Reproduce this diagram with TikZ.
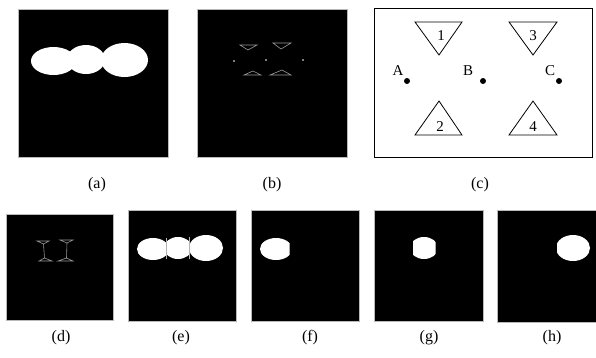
\documentclass[tikz,border=0pt]{standalone}
\usepackage{fontspec}
\setmainfont{Liberation Serif}
\begin{document}
\begin{tikzpicture}[x=1pt,y=-1pt,
  panel/.style={fill=black,draw=gray!55,line width=0.6pt},
  blob/.style={fill=white},
  thinline/.style={draw=gray!80,line width=0.6pt},
  tri/.style={draw=black,line width=0.8pt},
  caption/.style={font=\fontsize{16}{18}\selectfont,inner sep=0pt},
  lbl/.style={font=\fontsize{15}{17}\selectfont,inner sep=0pt}]
\useasboundingbox (0,0) rectangle (596,357);
% (a)
\fill[panel] (18,9) rectangle (168,157);
\fill[blob] (53.5,61) ellipse [x radius=22.5,y radius=14];
\fill[blob] (86,59.5) ellipse [x radius=19,y radius=14.5];
\fill[blob] (124.5,60) ellipse [x radius=23.5,y radius=17];
\node[caption] (la) at (97,185) {(a)};
% (b)
\fill[panel] (197,9) rectangle (347,157);
\draw[thinline] (240,45) -- (257,45) -- (248,50) -- cycle;
\draw[thinline] (273,43) -- (291,43) -- (281,49) -- cycle;
\draw[thinline] (244,75) -- (261,75) -- (253,71) -- cycle;
\draw[thinline] (270,75) -- (291,75) -- (282,70) -- cycle;
\fill[white] (234,61) circle (0.9);
\fill[white] (266,60) circle (0.9);
\fill[white] (303,60) circle (0.9);
\node[caption] (lb) at (272,185) {(b)};
% (c)
\draw[line width=0.8pt] (374,8) rectangle (592,157);
\draw[tri] (415,22) -- (462,22) -- (439,55) -- cycle;
\draw[tri] (509,22) -- (557,22) -- (533,55) -- cycle;
\draw[tri] (415,135) -- (462,135) -- (439,101) -- cycle;
\draw[tri] (509,135) -- (557,135) -- (533,101) -- cycle;
\node[lbl] (n1) at (441,36) {1};
\node[lbl] (n3) at (533,36) {3};
\node[lbl] (n2) at (440,127) {2};
\node[lbl] (n4) at (533,127) {4};
\fill (407,81) circle (3);
\fill (483,81) circle (3);
\fill (559,81) circle (3);
\node[lbl] (A) at (398,71) {A};
\node[lbl] (B) at (468,71) {B};
\node[lbl] (C) at (550,71) {C};
\node[caption] (lc) at (480,185) {(c)};
% (d)
\fill[panel] (6,214) rectangle (113,320);
\draw[thinline] (37,241) -- (49,241) -- (43.5,244) -- cycle;
\draw[thinline] (43.5,244) -- (44.5,258);
\draw[thinline] (39,261) -- (52,261) -- (44.5,258) -- cycle;
\draw[thinline] (60,240) -- (73,240) -- (67,243) -- cycle;
\draw[thinline] (67,243) -- (66.5,258);
\draw[thinline] (58,261) -- (73,261) -- (66.5,258) -- cycle;
\node[caption] (ld) at (61,338) {(d)};
% (e)
\fill[panel] (128,210) rectangle (236,321);
\begin{scope}
\clip (130,220) rectangle (166.5,280);
\fill[blob] (153,249) ellipse [x radius=16,y radius=11];
\end{scope}
\begin{scope}
\clip (166.5,220) rectangle (189.5,280);
\fill[blob] (178,248) ellipse [x radius=14,y radius=11];
\end{scope}
\begin{scope}
\clip (189.5,220) rectangle (230,280);
\fill[blob] (206,248) ellipse [x radius=17,y radius=13];
\end{scope}
\draw[gray!60,line width=0.5pt] (166.5,238) -- (166.5,259);
\draw[gray!60,line width=0.5pt] (189.5,237) -- (189.5,259);
\node[caption] (le) at (181,338) {(e)};
% (f)
\fill[panel] (251,210) rectangle (359,321);
\begin{scope}
\clip (255,220) rectangle (289.5,280);
\fill[blob] (276,249) ellipse [x radius=16,y radius=11];
\end{scope}
\node[caption] (lf) at (310,338) {(f)};
% (g)
\fill[panel] (374,210) rectangle (483,321);
\begin{scope}
\clip (413,220) rectangle (435.5,280);
\fill[blob] (424,248) ellipse [x radius=14,y radius=11];
\end{scope}
\node[caption] (lg) at (429,338) {(g)};
% (h)
\fill[panel] (497,210) rectangle (596,322);
\begin{scope}
\clip (557,220) rectangle (595,280);
\fill[blob] (573,248) ellipse [x radius=17,y radius=13];
\end{scope}
\node[caption] (lh) at (552,338) {(h)};
\end{tikzpicture}
\end{document}
